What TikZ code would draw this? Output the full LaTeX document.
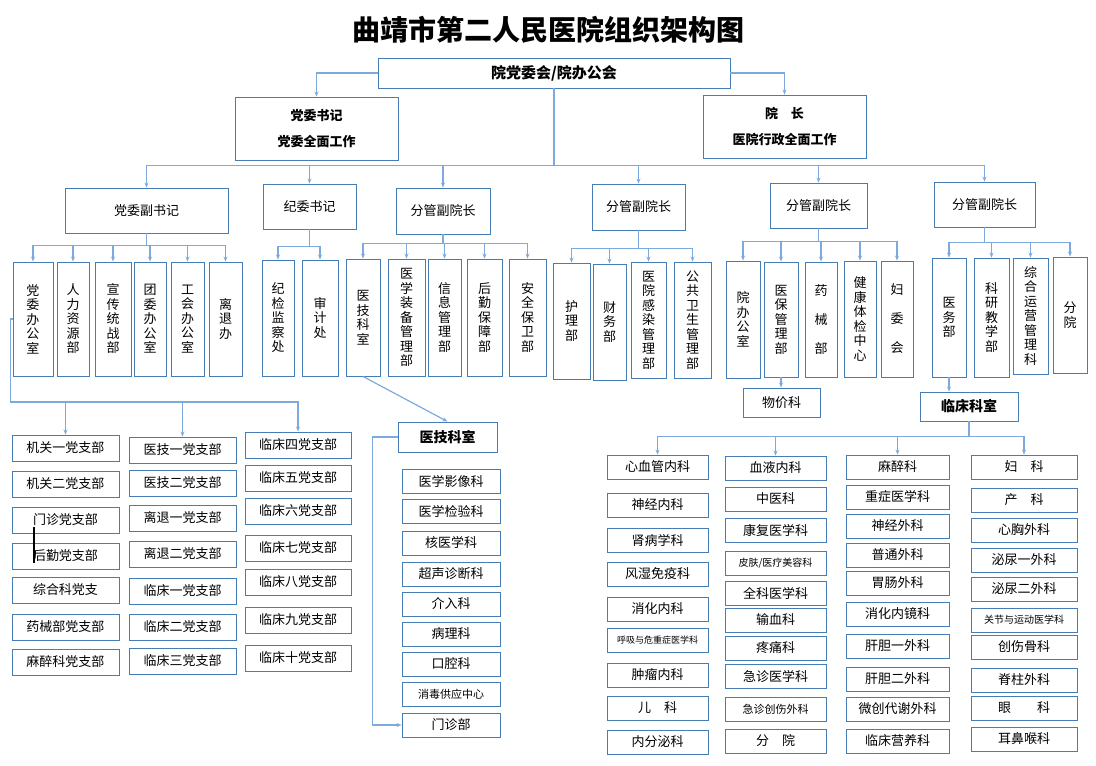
\documentclass[tikz,border=0pt]{standalone}
\usepackage{fontspec}
\setmainfont{Noto Sans CJK SC}
\usetikzlibrary{arrows.meta}
\definecolor{bxc}{RGB}{70,125,180}
\definecolor{lnc}{RGB}{125,170,220}
\tikzset{
 box/.style={draw=bxc,line width=0.9pt,inner sep=0pt,align=center,font=\fontsize{13}{15}\selectfont},
 vbox/.style={box,font=\fontsize{13}{14.5}\selectfont},
 arr/.style={draw=lnc,line width=1.2pt,-{Stealth[length=5pt,width=4pt]}},
 pln/.style={draw=lnc,line width=1.2pt}
}
\newcommand\bx[7][]{\node[box,#1,minimum width={((#5)-(#3))*1pt},minimum height={((#6)-(#4))*1pt}] (#2) at ({((#3)+(#5))/2},{((#4)+(#6))/2}) {#7};}
\begin{document}
\begin{tikzpicture}[x=1pt,y=-1pt]
\useasboundingbox (0,0) rectangle (1096,766);
\node[font=\fontsize{28}{30}\selectfont\bfseries] (title) at (548,30) {曲靖市第二人民医院组织架构图};
\bx[font=\fontsize{15}{17}\selectfont\bfseries]{top}{378}{58}{730}{88}{院党委会/院办公会}
\bx[font=\fontsize{13}{26}\selectfont\bfseries]{sj}{235}{97}{398}{160}{党委书记\\党委全面工作}
\bx[font=\fontsize{13}{26}\selectfont\bfseries]{yz}{703}{95}{866}{158}{院\quad 长\\医院行政全面工作}
\draw[arr] (top.west) -| (sj.north);
\draw[arr] (top.east) -| (yz.north);
% second level
\bx{fs}{65}{188}{228}{233}{党委副书记}
\bx{jw}{263}{184}{356}{229}{纪委书记}
\bx{f1}{396}{188}{490}{234}{分管副院长}
\bx{f2}{592}{184}{685}{230}{分管副院长}
\bx{f3}{770}{183}{867}{228}{分管副院长}
\bx{f4}{934}{182}{1035}{227}{分管副院长}
\foreach \c in {fs,jw,f1,f2,f3,f4} {\draw[arr] (top.south) -- ++(0,77) -| (\c.north);}
% third level
\bx[vbox]{dwb}{13}{262}{53}{376}{党\\委\\办\\公\\室}
\bx[vbox]{rl}{57}{262}{89}{376}{人\\力\\资\\源\\部}
\bx[vbox]{xc}{95}{262}{131}{376}{宣\\传\\统\\战\\部}
\bx[vbox]{tw}{134}{262}{166}{376}{团\\委\\办\\公\\室}
\bx[vbox]{gh}{171}{262}{204}{376}{工\\会\\办\\公\\室}
\bx[vbox]{lt}{209}{262}{242}{376}{离\\退\\办}
\foreach \c in {dwb,rl,xc,tw,gh,lt} {\draw[arr] (fs.south) -- ++(0,12) -| (\c.north);}
\bx[vbox]{jj}{262}{260}{294}{376}{纪\\检\\监\\察\\处}
\bx[vbox]{sjc}{302}{260}{338}{376}{审\\计\\处}
\foreach \c in {jj,sjc} {\draw[arr] (jw.south) -- ++(0,17) -| (\c.north);}
\bx[vbox]{yjks}{346}{259}{380}{376}{医\\技\\科\\室}
\bx[vbox]{zb}{388}{259}{425}{376}{医\\学\\装\\备\\管\\理\\部}
\bx[vbox]{xx}{428}{259}{461}{376}{信\\息\\管\\理\\部}
\bx[vbox]{hq}{467}{259}{502}{376}{后\\勤\\保\\障\\部}
\bx[vbox]{aq}{509}{259}{546}{376}{安\\全\\保\\卫\\部}
\foreach \c in {yjks,zb,xx,hq,aq} {\draw[arr] (f1.south) -- ++(0,9) -| (\c.north);}
\bx[vbox]{hl}{553}{263}{590}{379}{护\\理\\部}
\bx[vbox]{cw}{593}{264}{626}{380}{财\\务\\部}
\bx[vbox]{gr}{631}{262}{666}{378}{医\\院\\感\\染\\管\\理\\部}
\bx[vbox]{gw}{674}{262}{711}{378}{公\\共\\卫\\生\\管\\理\\部}
\foreach \c in {hl,cw,gr,gw} {\draw[arr] (f2.south) -- ++(0,18) -| (\c.north);}
\bx[vbox]{yb1}{726}{261}{760}{378}{院\\办\\公\\室}
\bx[vbox]{yb}{764}{262}{798}{377}{医\\保\\管\\理\\部}
\bx[vbox]{yx}{805}{262}{837}{377}{药\\\\械\\\\部}
\bx[vbox]{tj}{844}{261}{876}{377}{健\\康\\体\\检\\中\\心}
\bx[vbox]{fw}{881}{261}{913}{377}{妇\\\\委\\\\会}
\foreach \c in {yb1,yb,yx,tj,fw} {\draw[arr] (f3.south) -- ++(0,13) -| (\c.north);}
\bx[vbox]{yw}{932}{258}{966}{377}{医\\务\\部}
\bx[vbox]{ky}{974}{258}{1009}{377}{科\\研\\教\\学\\部}
\bx[vbox]{zh}{1013}{258}{1048}{374}{综\\合\\运\\营\\管\\理\\科}
\bx[vbox]{fy}{1053}{257}{1087}{373}{分\\院}
\foreach \c in {yw,ky,zh,fy} {\draw[arr] (f4.south) -- ++(0,15) -| (\c.north);}
\bx{wj}{743}{388}{820}{417}{物价科}
\draw[arr] (yb.south) -- (wj.north -| yb.south);
\bx[font=\fontsize{14}{16}\selectfont\bfseries]{lc}{920}{392}{1018}{421}{临床科室}
\draw[arr] (yw.south) -- (yw.south |- lc.north);
% party branches
\foreach \y/\t [count=\i] in {448/机关一党支部,484/机关二党支部,520/门诊党支部,556/后勤党支部,590/综合科党支,627/药械部党支部,662/麻醉科党支部}
  {\bx{pa\i}{12}{\y-13}{119}{\y+13}{\t}}
\foreach \y/\t [count=\i] in {450/医技一党支部,483/医技二党支部,518/离退一党支部,554/离退二党支部,591/临床一党支部,627/临床二党支部,661/临床三党支部}
  {\bx{pb\i}{129}{\y-13}{236}{\y+13}{\t}}
\foreach \y/\t [count=\i] in {445/临床四党支部,478/临床五党支部,511/临床六党支部,548/临床七党支部,582/临床八党支部,620/临床九党支部,658/临床十党支部}
  {\bx{pc\i}{245}{\y-13}{351}{\y+13}{\t}}
\foreach \c in {pa1,pb1,pc1} {\draw[arr] (dwb.west) -- ++(-2,0) -- ++(0,83) -| (\c.north);}
\draw[black,line width=1.2pt] (34,527) -- (34,563);
% 医技科室
\bx[font=\fontsize{14}{16}\selectfont\bfseries]{yjk}{398}{422}{497}{452}{医技科室}
\draw[arr] (yjks.south) -- (yjk.north);
\foreach \y/\t [count=\i] in {481/医学影像科,511/医学检验科,543/核医学科,574/超声诊断科,604/介入科,634/病理科,664/口腔科,694/{\fontsize{11}{13}\selectfont 消毒供应中心},725/门诊部}
  {\bx{yj\i}{402}{\y-12}{500}{\y+12}{\t}}
\draw[arr] (yjk.west) -- ++(-25,0) |- (yj9.west);
% clinical
\foreach \y/\t [count=\i] in {467/心血管内科,505/神经内科,540/肾病学科,574/风湿免疫科,609/消化内科,640/{\fontsize{9}{11}\selectfont 呼吸与危重症医学科},675/肿瘤内科,708/儿\quad 科,742/内分泌科}
  {\bx{ca\i}{607}{\y-12}{708}{\y+12}{\t}}
\foreach \y/\t [count=\i] in {468/血液内科,499/中医科,530/康复医学科,563/{\fontsize{10}{12}\selectfont 皮肤/医疗美容科},593/全科医学科,620/输血科,648/疼痛科,676/急诊医学科,709/{\fontsize{11}{13}\selectfont 急诊创伤外科},741/分\quad 院}
  {\bx{cb\i}{725}{\y-12}{826}{\y+12}{\t}}
\foreach \y/\t [count=\i] in {467/麻醉科,497/重症医学科,526/神经外科,555/普通外科,583/胃肠外科,614/消化内镜科,646/肝胆一外科,679/肝胆二外科,709/微创代谢外科,741/临床营养科}
  {\bx{cc\i}{846}{\y-12}{949}{\y+12}{\t}}
\foreach \y/\t [count=\i] in {467/妇\quad 科,500/产\quad 科,530/心胸外科,560/泌尿一外科,589/泌尿二外科,620/{\fontsize{10}{12}\selectfont 关节与运动医学科},647/创伤骨科,680/脊柱外科,708/眼\qquad 科,739/耳鼻喉科}
  {\bx{cd\i}{971}{\y-12}{1077}{\y+12}{\t}}
\foreach \c in {ca1,cb1,cc1,cd1} {\draw[arr] (lc.south) -- ++(0,15) -| (\c.north);}
\end{tikzpicture}
\end{document}
